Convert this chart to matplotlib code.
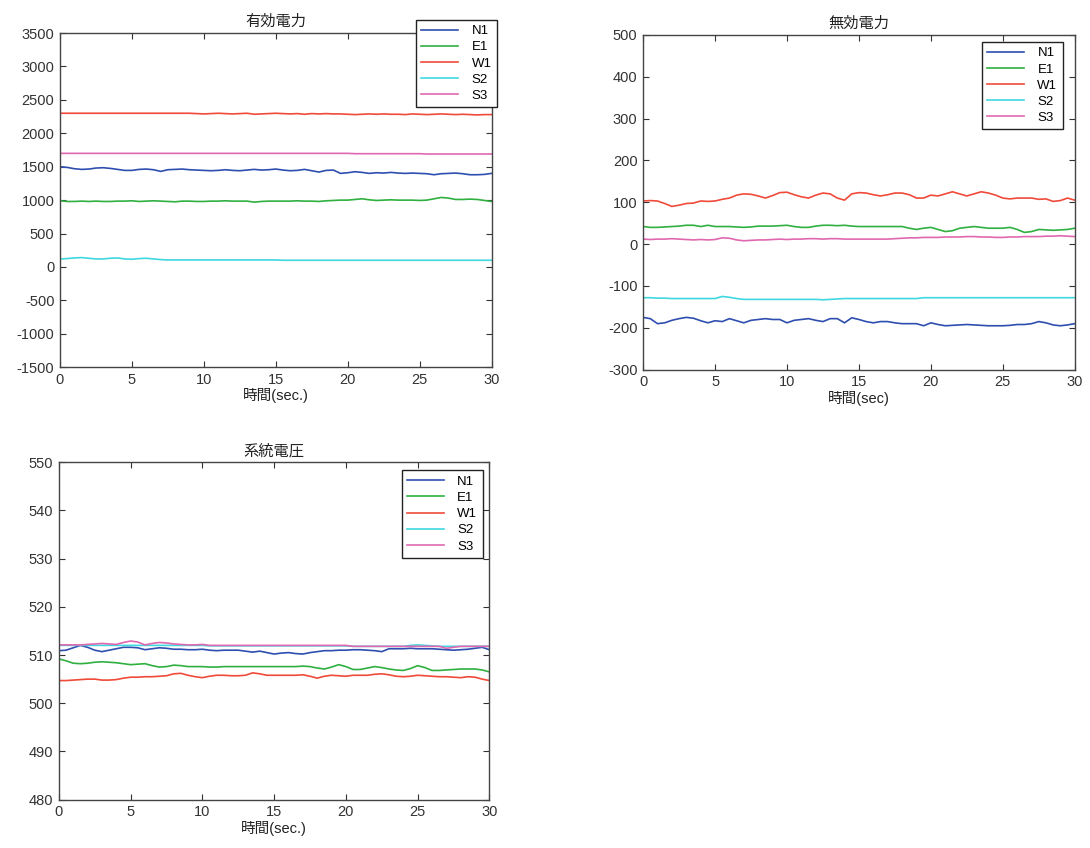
import numpy as np
import matplotlib
matplotlib.use("Agg")
import matplotlib.pyplot as plt

plt.rcParams['font.family'] = ['Liberation Sans', 'Noto Sans CJK JP', 'DejaVu Sans']
plt.rcParams['axes.unicode_minus'] = False

# ========================================
# DATA (0.5 s steps)
# ========================================
t = np.arange(0, 30.5, 0.5)
names = ["N1", "E1", "W1", "S2", "S3"]
colors = ["#2f4fb0", "#2fb040", "#f04a3a", "#3fd8e0", "#e068b0"]

# 有効電力
p_n1 = [1500, 1490, 1470, 1460, 1465, 1480, 1485, 1475, 1460, 1445,
        1445, 1460, 1465, 1455, 1430, 1455, 1460, 1465, 1455, 1450,
        1445, 1440, 1445, 1455, 1445, 1440, 1450, 1460, 1450, 1455,
        1465, 1450, 1440, 1445, 1460, 1440, 1420, 1445, 1450, 1400,
        1410, 1425, 1415, 1400, 1410, 1405, 1415, 1405, 1400, 1405,
        1400, 1395, 1380, 1395, 1400, 1405, 1395, 1380, 1380, 1385, 1400]
p_e1 = [990, 980, 980, 985, 980, 985, 980, 980, 985, 985,
        990, 980, 985, 990, 985, 980, 975, 985, 985, 980,
        980, 985, 985, 990, 985, 985, 985, 970, 980, 985,
        985, 985, 985, 990, 985, 985, 980, 990, 995, 1000,
        1000, 1010, 1020, 1005, 995, 1000, 1005, 1000, 1000, 1000,
        995, 1000, 1020, 1040, 1030, 1010, 1010, 1015, 1010, 995, 980]
p_w1 = [2300] * 19 + [
        2295, 2290, 2295, 2300, 2295, 2290, 2295, 2300, 2285, 2290,
        2295, 2300, 2295, 2290, 2295, 2285, 2295, 2290, 2295, 2290,
        2290, 2285, 2280, 2285, 2290, 2285, 2290, 2285, 2285, 2280,
        2290, 2285, 2280, 2285, 2290, 2285, 2280, 2285, 2280, 2275,
        2280, 2280]
p_s2 = [120, 125, 135, 140, 130, 120, 120, 130, 135, 120,
        115, 125, 130, 120, 110] + [105] * 16 + [100] * 30
p_s3 = [1700] * 41 + [1695] * 10 + [1690] * 10

# 無効電力
q_n1 = [-175, -178, -190, -188, -182, -178, -175, -177, -183, -188,
        -183, -185, -178, -183, -188, -182, -180, -178, -180, -180,
        -188, -182, -180, -178, -182, -185, -178, -178, -188, -176,
        -180, -185, -188, -185, -185, -188, -190, -190, -190, -195,
        -188, -192, -195, -194, -193, -192, -193, -194, -195, -195,
        -195, -194, -192, -192, -190, -185, -188, -193, -195, -193, -190]
q_e1 = [42, 40, 40, 41, 42, 43, 45, 45, 42, 45,
        42, 42, 42, 41, 40, 41, 43, 43, 43, 44,
        45, 42, 40, 40, 43, 45, 45, 44, 45, 43,
        42, 42, 42, 42, 42, 42, 42, 38, 35, 38,
        40, 35, 30, 32, 38, 40, 42, 40, 38, 38,
        38, 40, 35, 28, 30, 35, 34, 33, 34, 35, 38]
q_w1 = [103, 104, 103, 97, 90, 93, 97, 98, 103, 102,
        103, 107, 110, 117, 120, 119, 115, 110, 116, 123,
        124, 118, 113, 110, 117, 122, 120, 110, 105, 120,
        123, 122, 118, 115, 118, 122, 122, 118, 110, 110,
        117, 115, 120, 125, 120, 115, 120, 125, 122, 117,
        110, 108, 110, 110, 110, 107, 108, 102, 104, 110, 105]
q_s2 = [-128, -128, -129, -129, -130, -130, -130, -130, -130, -130,
        -130, -125, -127, -130, -132] + [-132] * 10 + [
        -133, -132, -131, -130, -130, -130] + [-130] * 8 + [-128] * 22
q_s3 = [12, 11, 12, 12, 13, 12, 11, 10, 11, 10,
        11, 15, 14, 10, 8, 9, 10, 10, 11, 12,
        11, 12, 12, 13, 13, 12, 13, 13, 12, 12,
        12, 12, 12, 12, 12, 13, 14, 15, 15, 16,
        16, 16, 17, 17, 17, 18, 18, 17, 17, 16,
        16, 17, 17, 18, 18, 18, 19, 19, 20, 19, 18]

# 系統電圧
v_n1 = [510.9, 511.0, 511.5, 512.0, 511.6, 511.0, 510.7, 511.0, 511.3, 511.6,
        511.6, 511.5, 511.1, 511.3, 511.5, 511.4, 511.2, 511.2, 511.1, 511.1,
        511.2, 511.0, 510.9, 511.0, 511.0, 511.0, 510.8, 510.6, 510.8, 510.5,
        510.2, 510.4, 510.5, 510.3, 510.2, 510.5, 510.7, 510.9, 510.9, 511.0,
        511.0, 511.1, 511.1, 511.0, 510.9, 510.7, 511.3, 511.3, 511.3, 511.4,
        511.3, 511.3, 511.3, 511.2, 511.1, 511.0, 511.1, 511.2, 511.4, 511.6, 511.1]
v_e1 = [509.2, 508.8, 508.3, 508.2, 508.3, 508.5, 508.6, 508.5, 508.4, 508.2,
        508.0, 508.1, 508.2, 507.8, 507.5, 507.6, 507.9, 507.8, 507.6, 507.6,
        507.6, 507.5, 507.5, 507.6, 507.6, 507.6, 507.6, 507.6, 507.6, 507.6,
        507.6, 507.6, 507.6, 507.6, 507.7, 507.6, 507.3, 507.1, 507.5, 508.0,
        507.6, 507.0, 507.0, 507.3, 507.6, 507.4, 507.1, 506.9, 506.8, 507.2,
        507.8, 507.4, 506.8, 506.8, 506.9, 507.0, 507.1, 507.1, 507.1, 506.9, 506.5]
v_w1 = [504.7, 504.7, 504.8, 504.9, 505.0, 505.0, 504.8, 504.8, 504.9, 505.2,
        505.4, 505.4, 505.5, 505.5, 505.6, 505.7, 506.1, 506.2, 505.8, 505.5,
        505.3, 505.6, 505.8, 505.8, 505.7, 505.7, 505.8, 506.3, 506.1, 505.8,
        505.8, 505.8, 505.8, 505.8, 505.9, 505.6, 505.2, 505.6, 505.8, 505.7,
        505.6, 505.8, 505.8, 505.8, 506.0, 506.1, 505.9, 505.6, 505.5, 505.6,
        505.8, 505.7, 505.6, 505.5, 505.5, 505.4, 505.3, 505.5, 505.4, 505.0, 504.7]
v_s2 = [512.0] * 21 + [511.9] * 20 + [511.8] * 8 + [512.0, 512.1, 512.0, 511.9] + [511.8] * 8
v_s3 = [512.1, 512.1, 512.1, 512.1, 512.2, 512.3, 512.4, 512.3, 512.2, 512.6,
        512.9, 512.7, 512.1, 512.4, 512.6, 512.5, 512.3, 512.2, 512.1, 512.1,
        512.2] + [512.0] * 20 + [511.8] * 13 + [511.4, 511.6] + [511.8] * 5

# ========================================
# PLOT
# ========================================
fig = plt.figure(figsize=(10.9, 8.48), dpi=100)

panels = [
    ("有効電力", [p_n1, p_e1, p_w1, p_s2, p_s3], [0.055, 0.567, 0.396, 0.394],
     (-1500, 3500), np.arange(-1500, 3501, 500), (1.012, 1.04), "時間(sec.)"),
    ("無効電力", [q_n1, q_e1, q_w1, q_s2, q_s3], [0.590, 0.564, 0.396, 0.395],
     (-300, 500), np.arange(-300, 501, 100), (0.972, 0.979), "時間(sec)"),
    ("系統電圧", [v_n1, v_e1, v_w1, v_s2, v_s3], [0.054, 0.057, 0.395, 0.398],
     (480, 550), np.arange(480, 551, 10), (0.984, 0.976), "時間(sec.)"),
]

for title, series, pos, ylim, yticks, leg_anchor, xlabel in panels:
    ax = fig.add_axes(pos)
    for name, vals, c in zip(names, series, colors):
        ax.plot(t, vals, color=c, lw=1.2, label=name)
    ax.set_xlim(0, 30)
    ax.set_ylim(*ylim)
    ax.set_xticks(np.arange(0, 31, 5))
    ax.set_yticks(yticks)
    ax.tick_params(direction="in", length=4, top=True, right=True,
                   labelsize=10.5, colors="#333333", pad=4)
    for s in ax.spines.values():
        s.set_color("#444444")
        s.set_linewidth(1.0)
    ax.set_title(title, fontsize=11, color="#222222", pad=5)
    ax.set_xlabel(xlabel, fontsize=10.5, color="#222222", labelpad=1)
    leg = ax.legend(loc="upper right", bbox_to_anchor=leg_anchor, borderaxespad=0,
                    fontsize=9.5, handlelength=2.8, labelspacing=0.3,
                    fancybox=False, framealpha=1, edgecolor="#222222",
                    borderpad=0.4, handletextpad=1.0)
    leg.get_frame().set_linewidth(1.0)

plt.savefig("out.png", dpi=100)
